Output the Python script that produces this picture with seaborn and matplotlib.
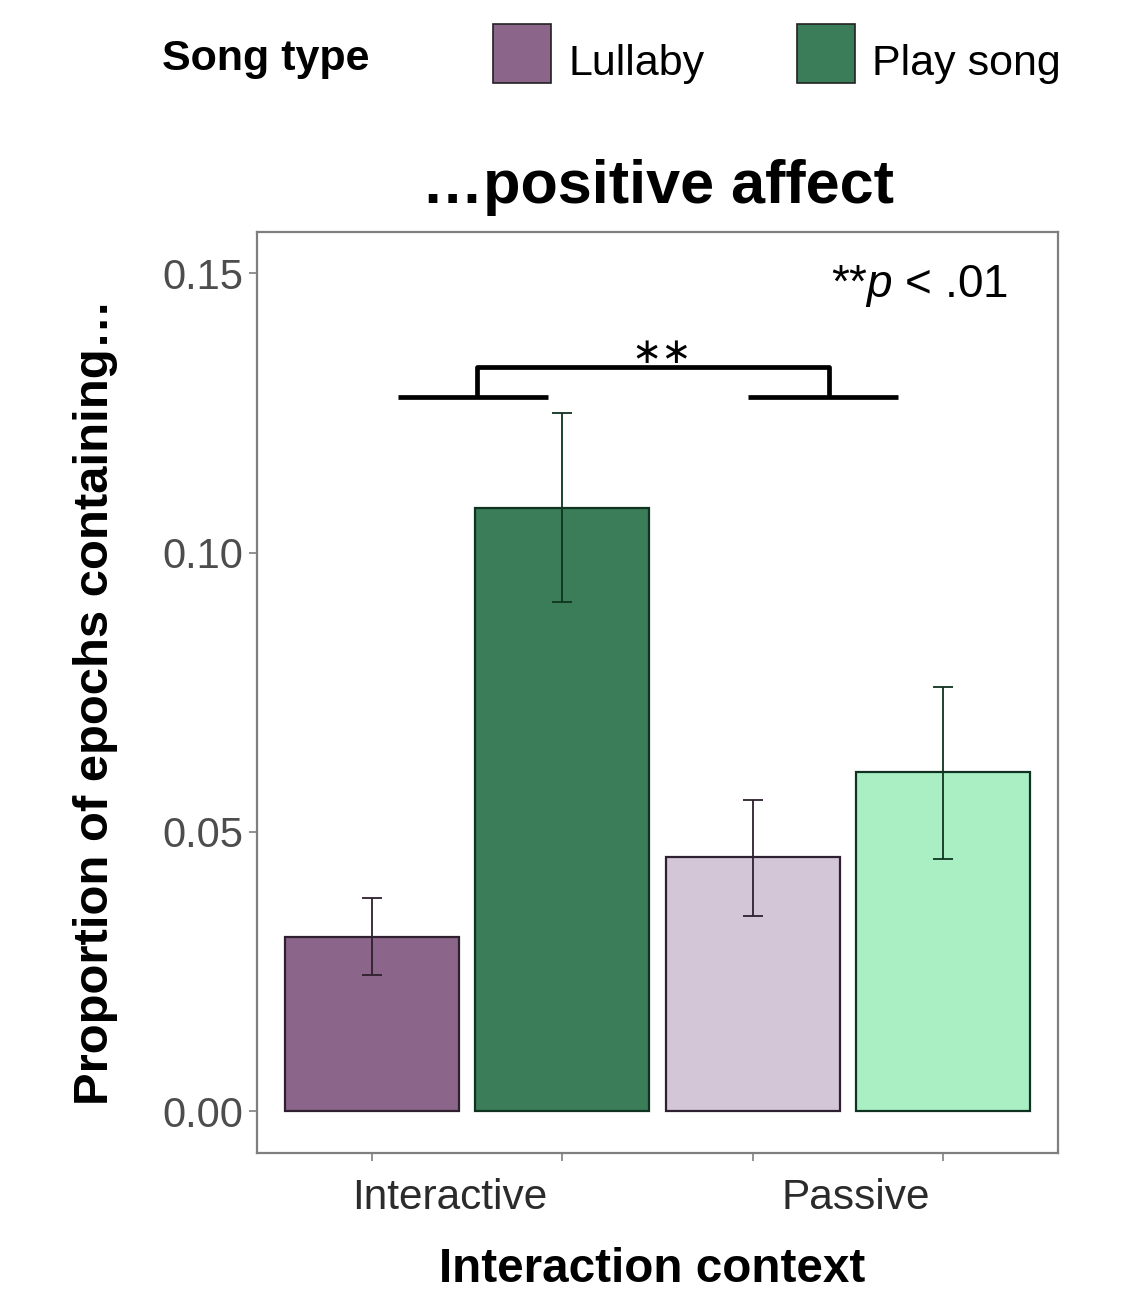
import numpy as np
import pandas as pd
import seaborn as sns
import matplotlib
matplotlib.use("Agg")
import matplotlib.pyplot as plt
from matplotlib.patches import Patch, Rectangle
from matplotlib.legend_handler import HandlerPatch

# ---------------- data ----------------
contexts = ["Interactive", "Interactive", "Passive", "Passive"]
song_types = ["Lullaby", "Play song", "Lullaby", "Play song"]
conditions = ["Interactive Lullaby", "Interactive Play song",
              "Passive Lullaby", "Passive Play song"]
proportions = [0.0311, 0.1080, 0.0455, 0.0607]
ci_low = [0.0243, 0.0911, 0.0349, 0.0451]
ci_high = [0.0381, 0.1250, 0.0557, 0.0759]
fill_colors = ["#8B658A", "#3A7D58", "#D3C6D6", "#A9EFC3"]
edge_colors = ["#2E202E", "#0F3320", "#2E202E", "#0F3320"]
yticks = [0.00, 0.05, 0.10, 0.15]
ytick_labels = ["0.00", "0.05", "0.10", "0.15"]
context_labels = ["Interactive", "Passive"]
context_label_pos = [0.41, 2.54]
legend_labels = ["Lullaby", "Play song"]
legend_colors = ["#8B658A", "#3A7D58"]

df = pd.DataFrame({"context": contexts, "song": song_types,
                   "condition": conditions, "proportion": proportions})

# ---------------- style ----------------
sns.set_theme(style="white")
plt.rcParams["font.family"] = ["Liberation Sans", "DejaVu Sans"]
plt.rcParams["text.color"] = "black"
plt.rcParams["axes.labelcolor"] = "black"
plt.rcParams["mathtext.fontset"] = "custom"
plt.rcParams["mathtext.it"] = "Liberation Sans:italic"
plt.rcParams["mathtext.rm"] = "Liberation Sans"

W, H = 1136, 1293
fig = plt.figure(figsize=(W / 100, H / 100), dpi=100)
ax = fig.add_axes([257 / W, 1 - 1153 / H, (1058 - 257) / W, (1153 - 232) / H])

sns.barplot(data=df, x="condition", y="proportion", hue="condition",
            order=conditions, hue_order=conditions,
            palette=dict(zip(conditions, fill_colors)),
            width=0.914, errorbar=None, legend=False, ax=ax,
            linewidth=1.6, saturation=1)
for patch, ec in zip(ax.patches, edge_colors):
    patch.set_edgecolor(ec)

for i, (p, lo, hi) in enumerate(zip(proportions, ci_low, ci_high)):
    ax.errorbar(i, p, yerr=[[p - lo], [hi - p]], fmt="none",
                ecolor=edge_colors[i], elinewidth=1.3, capsize=7, capthick=1.3,
                zorder=5)

ax.set_xlim(-0.604, 3.605)
ax.set_ylim(-0.0075, 0.1574)
ax.set_yticks(yticks)
ax.set_yticklabels(ytick_labels)
ax.set_xticks(range(len(conditions)))
ax.set_xticklabels([""] * len(conditions))
ax.set_xticks(context_label_pos, minor=True)
ax.set_xticklabels(context_labels, minor=True)

ax.tick_params(axis="both", which="major", direction="out", length=6, width=1.2,
               color="#7F7F7F", labelsize=30, labelcolor="#4D4D4D", pad=4)
ax.tick_params(axis="x", which="minor", length=0, labelsize=30.5,
               labelcolor="#2B2B2B", pad=18)
ax.tick_params(left=True, bottom=True)
for sp in ax.spines.values():
    sp.set_visible(True)
    sp.set_color("#7F7F7F")
    sp.set_linewidth(1.6)

ax.set_xlabel("Interaction context", fontsize=34.3, fontweight="bold",
              color="black")
ax.xaxis.set_label_coords(0.493, -0.1025)
ax.set_ylabel("Proportion of epochs containing…", fontsize=35.3,
              fontweight="bold", color="black")
ax.yaxis.set_label_coords(-0.1735, 0.49)
ax.set_title("…positive affect", fontsize=44, fontweight="bold", pad=21,
             color="black")

# significance bracket
ax.plot([0.137, 0.925], [0.1278, 0.1278], color="black", lw=3.4,
        solid_capstyle="butt")
ax.plot([1.976, 2.764], [0.1278, 0.1278], color="black", lw=3.4,
        solid_capstyle="butt")
ax.plot([0.552, 0.552, 2.401, 2.401], [0.1278, 0.1332, 0.1332, 0.1278],
        color="black", lw=3.4, solid_joinstyle="round", solid_capstyle="butt")
ax.text(1.524, 0.1358, "∗∗", ha="center", va="center", fontsize=26,
        family=["DejaVu Sans"], color="black")

ax.text(0.9376, 0.9294, r"**$p$ < .01", transform=ax.transAxes, ha="right",
        va="baseline", fontsize=33, color="black")


# legend: square keys sitting slightly higher than the label text
def raised_patch(legend, orig_handle, xdescent, ydescent, width, height,
                 fontsize):
    return Rectangle(xy=(-xdescent, -ydescent + 5.5), width=width,
                     height=height)


handles = [Patch(facecolor=c, edgecolor="#222222", linewidth=1.2)
           for c in legend_colors]
fig.legend(handles=handles, labels=legend_labels, loc="center left",
           bbox_to_anchor=(493 / W, 1 - 61 / H), ncol=2, frameon=False,
           fontsize=31, handlelength=1.35, handleheight=1.72,
           handletextpad=0.4, columnspacing=2.15, borderpad=0,
           borderaxespad=0, labelcolor="black",
           handler_map={Patch: HandlerPatch(patch_func=raised_patch)})
fig.text(162 / W, 1 - 70 / H, "Song type", fontsize=31, fontweight="bold",
         va="baseline", ha="left", color="black")

fig.savefig("out.png", dpi=100, facecolor="white")
